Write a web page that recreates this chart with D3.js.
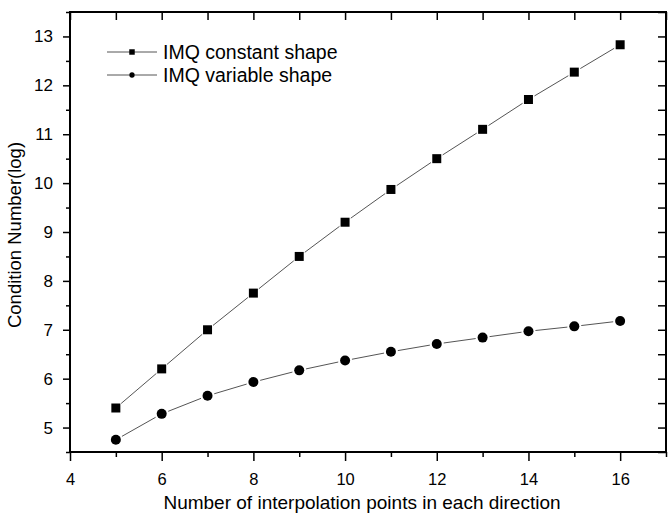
<!DOCTYPE html>
<html lang="en">
<head>
    <meta charset="UTF-8">
    <title>Condition Number</title>
    <script src="https://d3js.org/d3.v7.min.js"></script>
    <style>
        body { margin: 0; background: #fff; }
        text { font-family: "Liberation Sans", Arial, sans-serif; fill: #000; }
        .link { stroke: #555; stroke-width: 1; }
    </style>
</head>
<body>
    <script>
        // data
        var points = [5, 6, 7, 8, 9, 10, 11, 12, 13, 14, 15, 16];
        var constantShape = [5.4, 6.2, 7.0, 7.75, 8.5, 9.2, 9.87, 10.5, 11.1, 11.71, 12.27, 12.83];
        var variableShape = [4.75, 5.28, 5.65, 5.93, 6.17, 6.37, 6.55, 6.71, 6.84, 6.97, 7.07, 7.18];
        var seriesNames = ["IMQ constant shape", "IMQ variable shape"];
        var xMajor = [4, 6, 8, 10, 12, 14, 16];
        var xMinor = [5, 7, 9, 11, 13, 15, 17];
        var yMajor = [5, 6, 7, 8, 9, 10, 11, 12, 13];
        var yMinor = [4.5, 5.5, 6.5, 7.5, 8.5, 9.5, 10.5, 11.5, 12.5, 13.5];

        var W = 670, H = 514;
        var margin = { top: 12, right: 4, bottom: 62, left: 70 },
            width = W - margin.left - margin.right,
            height = H - margin.top - margin.bottom;

        var x = d3.scaleLinear().domain([4, 17]).range([0, width]);
        var y = d3.scaleLinear().domain([4.5, 13.5]).range([height, 0]);

        var svg = d3.select("body").append("svg")
            .attr("width", W)
            .attr("height", H)
            .append("g")
            .attr("transform", "translate(" + margin.left + "," + margin.top + ")");

        function styleAxis(g) {
            g.select(".domain").remove();
            g.selectAll(".tick line").attr("stroke", "#000").attr("stroke-width", 1.5);
        }

        // bottom axis: majors with labels, minors short
        svg.append("g")
            .attr("transform", "translate(0," + height + ")")
            .call(d3.axisBottom(x).tickValues(xMajor).tickSize(9).tickPadding(12).tickFormat(d3.format("d")))
            .call(styleAxis)
            .selectAll("text").style("font-size", "16.5px").style("font-family", null);
        svg.append("g")
            .attr("transform", "translate(0," + height + ")")
            .call(d3.axisBottom(x).tickValues(xMinor).tickSize(5).tickFormat(""))
            .call(styleAxis);

        // top axis: inward ticks every unit
        svg.append("g")
            .call(d3.axisTop(x).tickValues(xMajor.concat(xMinor)).tickSize(-8).tickFormat(""))
            .call(styleAxis);

        // left axis
        svg.append("g")
            .call(d3.axisLeft(y).tickValues(yMajor).tickSize(7).tickPadding(10).tickFormat(d3.format("d")))
            .call(styleAxis)
            .selectAll("text").style("font-size", "17px").style("font-family", null);
        svg.append("g")
            .call(d3.axisLeft(y).tickValues(yMinor).tickSize(4).tickFormat(""))
            .call(styleAxis);

        // right axis: inward ticks
        svg.append("g")
            .attr("transform", "translate(" + width + ",0)")
            .call(d3.axisRight(y).tickValues(yMajor.concat(yMinor)).tickSize(-8).tickFormat(""))
            .call(styleAxis);

        // frame
        svg.append("rect")
            .attr("width", width)
            .attr("height", height)
            .attr("fill", "none")
            .attr("stroke", "#000")
            .attr("stroke-width", 2);

        // line segments with a small gap at each marker
        function drawSeries(values, gap, marker) {
            var pts = points.map(function (p, i) { return [x(p), y(values[i])]; });
            var segs = d3.pairs(pts);
            svg.append("g").selectAll("line")
                .data(segs)
                .enter().append("line")
                .attr("class", "link")
                .each(function (s) {
                    var dx = s[1][0] - s[0][0], dy = s[1][1] - s[0][1];
                    var len = Math.sqrt(dx * dx + dy * dy);
                    var ux = dx / len, uy = dy / len;
                    d3.select(this)
                        .attr("x1", s[0][0] + ux * gap).attr("y1", s[0][1] + uy * gap)
                        .attr("x2", s[1][0] - ux * gap).attr("y2", s[1][1] - uy * gap);
                });
            svg.append("g").selectAll("path")
                .data(pts)
                .enter().append("path")
                .attr("transform", function (d) { return "translate(" + d[0] + "," + d[1] + ")"; })
                .attr("d", marker)
                .attr("fill", "#000");
        }

        var bigSquare = d3.symbol().type(d3.symbolSquare).size(81)();
        var bigCircle = d3.symbol().type(d3.symbolCircle).size(Math.PI * 25)();
        drawSeries(constantShape, 7, bigSquare);
        drawSeries(variableShape, 7, bigCircle);

        // legend
        var legend = svg.append("g").attr("transform", "translate(37,40)");
        var smallMarks = [
            d3.symbol().type(d3.symbolSquare).size(30)(),
            d3.symbol().type(d3.symbolCircle).size(Math.PI * 7)()
        ];
        seriesNames.forEach(function (name, i) {
            var row = legend.append("g").attr("transform", "translate(0," + (i * 23) + ")");
            row.append("line").attr("class", "link").attr("x1", 0).attr("x2", 50).attr("y1", 0).attr("y2", 0);
            row.append("path").attr("transform", "translate(25,0)").attr("d", smallMarks[i]).attr("fill", "#000");
            row.append("text")
                .attr("x", 56)
                .attr("dy", "0.36em")
                .style("font-size", "19.5px")
                .text(name);
        });

        // axis titles
        svg.append("text")
            .attr("x", 292)
            .attr("y", height + 57)
            .attr("text-anchor", "middle")
            .style("font-size", "19px")
            .text("Number of interpolation points in each direction");

        svg.append("text")
            .attr("transform", "translate(" + (21 - margin.left) + "," + (235 - margin.top) + ") rotate(-90)")
            .attr("text-anchor", "middle")
            .style("font-size", "18.5px")
            .text("Condition Number(log)");
    </script>
</body>
</html>
